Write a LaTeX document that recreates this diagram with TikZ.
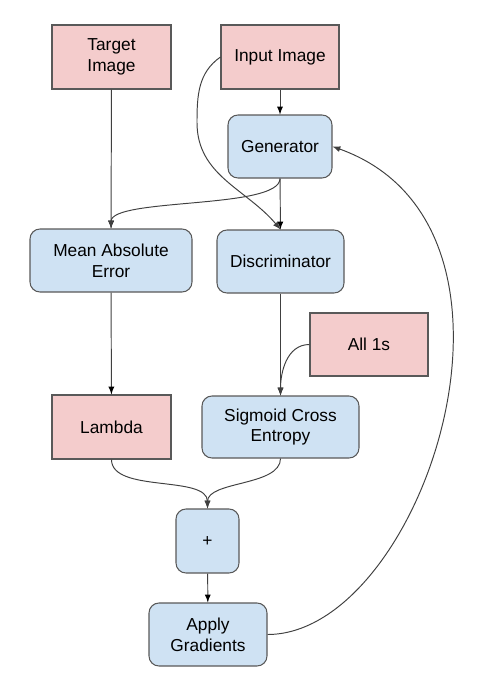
\documentclass[tikz,border=0pt]{standalone}
\usepackage{fontspec}
\setmainfont{Liberation Sans}
\usetikzlibrary{arrows,positioning}
\definecolor{boxpink}{HTML}{F4CCCC}
\definecolor{boxblue}{HTML}{CFE2F3}
\definecolor{boxline}{HTML}{595959}
\definecolor{wirecol}{HTML}{404040}

\begin{document}
\begin{tikzpicture}[>=latex,
  every node/.style={font=\fontsize{9.85}{11.9}\selectfont,align=center,inner sep=0pt},
  pinkbox/.style={rectangle,draw=boxline,fill=boxpink,line width=0.6pt,minimum height=1.28cm},
  bluebox/.style={rectangle,rounded corners=0.2cm,draw=boxline,fill=boxblue,line width=0.6pt,minimum height=1.26cm},
  wire/.style={->,draw=wirecol,line width=0.55pt}]
\useasboundingbox (0,0) rectangle (9.66,-13.88);
% \draw[help lines] (0,0) grid (9,-13);
\node (target) [pinkbox,minimum width=2.38cm] at (2.23,-1.14) {Target\\Image};
\node (input) [pinkbox,minimum width=2.36cm] at (5.60,-1.14) {Input Image};
\node (gen) [bluebox,minimum width=2.08cm] at (5.60,-2.93) {Generator};
\node (mae) [bluebox,minimum width=3.24cm] at (2.22,-5.21) {Mean Absolute\\Error};
\node (disc) [bluebox,minimum width=2.54cm] at (5.61,-5.23) {Discriminator};
\node (ones) [pinkbox,minimum width=2.36cm,minimum height=1.26cm] at (7.38,-6.89) {All 1s};
\node (lambda) [pinkbox,minimum width=2.38cm] at (2.23,-8.54) {Lambda};
\node (sce) [bluebox,minimum width=3.14cm,minimum height=1.24cm] at (5.61,-8.54) {Sigmoid Cross\\Entropy};
\node (plus) [bluebox,minimum width=1.26cm,minimum height=1.28cm] at (4.15,-10.82) {+};
\node (apply) [bluebox,minimum width=2.36cm] at (4.16,-12.69) {Apply\\Gradients};
\coordinate (bend) at (3.94,-2.45);
%
\path[wire] (target) edge (mae);
\path[wire] (input) edge (gen);
\path[wire] (gen) edge (disc);
\draw[wire] (gen.south) to[out=-90,in=90,looseness=0.45] (mae.north);
\draw[wire] (input.west) to[out=215,in=90] (bend) to[out=-90,in=130] (disc.north);
\path[wire] (mae) edge (lambda);
\path[wire] (disc) edge (sce);
\draw[wire] (ones.west) to[out=180,in=90] (sce.north);
\draw[wire] (lambda.south) to[out=-90,in=90,looseness=0.8] (plus.north);
\draw[wire] (sce.south) to[out=-90,in=90,looseness=0.8] (plus.north);
\path[wire] (plus) edge (apply);
\draw[wire] (apply.east) .. controls +(3.1,0) and +(4.5,-1.6) .. (gen.east);
\end{tikzpicture}
\end{document}
